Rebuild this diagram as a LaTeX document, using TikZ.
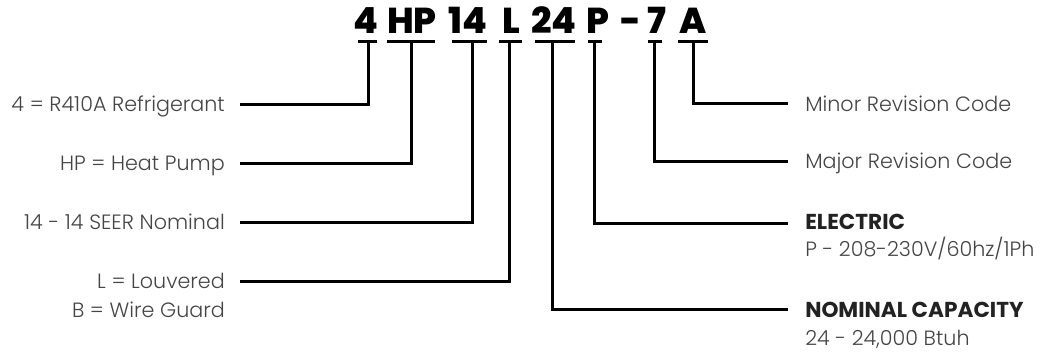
\documentclass[tikz,border=0pt]{standalone}
\usepackage{fontspec}
\setmainfont{Poppins}
\newfontfamily\lightfont{Poppins Light}
\newfontfamily\heavyfont{Poppins ExtraBold}
\definecolor{labelgray}{HTML}{444444}
\definecolor{headgray}{HTML}{222222}
\tikzset{
  code/.style={font=\heavyfont\fontsize{27}{28}\selectfont, inner sep=0pt, anchor=base},
  lbl/.style={font=\lightfont\fontsize{15.5}{16}\selectfont, text=labelgray, inner sep=0pt},
  lblL/.style={lbl, anchor=base east},
  lblR/.style={lbl, anchor=base west},
  head/.style={font=\fontsize{16.2}{17}\selectfont\bfseries, text=headgray, inner sep=0pt, anchor=base west},
  wire/.style={line width=2.25pt, line join=miter},
  ubar/.style={line width=2.25pt},
}
\begin{document}
\begin{tikzpicture}[x=0.75pt,y=-0.75pt]
\useasboundingbox (0,0) rectangle (1042,354);
% code letters
\node[code] (c4)  at (366,33) {4};
\node[code] (cHP) at (412,33) {HP};
\node[code] (c14) at (468,33) {14};
\node[code] (cL)  at (511,33) {L};
\node[code] (c24) at (554,33) {24};
\node[code] (cP)  at (598,33) {P};
\node[code] (cD)  at (631,33) {-};
\node[code] (c7)  at (657,33) {7};
\node[code] (cA)  at (693,33) {A};
% underline bars
\draw[ubar] (358,41) -- (377,41);
\draw[ubar] (387,41) -- (435,41);
\draw[ubar] (452,41) -- (487,41);
\draw[ubar] (499,41) -- (522,41);
\draw[ubar] (535,41) -- (575,41);
\draw[ubar] (588,41) -- (602,41);
\draw[ubar] (648,41) -- (662,41);
\draw[ubar] (678,41) -- (708,41);
% bar anchor points
\coordinate (b4)  at (368,41);
\coordinate (bHP) at (411,41);
\coordinate (b14) at (472,41);
\coordinate (bL)  at (509,41);
\coordinate (b24) at (552,41);
\coordinate (bP)  at (594,41);
\coordinate (b7)  at (654,41);
\coordinate (bA)  at (693,41);
% left labels
\node[lblL] (l4)  at (225,111) {4 = R410A Refrigerant};
\node[lblL] (lHP) at (225,170) {HP = Heat Pump};
\node[lblL] (l14) at (225,229) {14 - 14 SEER Nominal};
\node[lblL] (lL)  at (225,288) {L = Louvered};
\node[lblL] (lB)  at (225,317) {B = Wire Guard};
% right labels
\node[lblR] (rA)  at (805,111) {Minor Revision Code};
\node[lblR] (r7)  at (805,168) {Major Revision Code};
\node[head] (rP)  at (805,229) {ELECTRIC};
\node[lblR] (rP2) at (805,256) {P - 208-230V/60hz/1Ph};
\node[head] (r24) at (805,317) {NOMINAL CAPACITY};
\node[lblR] (r242) at (805,345) {24 - 24,000 Btuh};
% line ends
\coordinate (e4)  at (240,104);
\coordinate (eHP) at (240,163);
\coordinate (e14) at (240,222);
\coordinate (eL)  at (240,281);
\coordinate (eA)  at (788,103);
\coordinate (e7)  at (788,161);
\coordinate (eP)  at (788,223);
\coordinate (e24) at (788,309);
% connectors
\draw[wire] (b4)  |- (e4);
\draw[wire] (bHP) |- (eHP);
\draw[wire] (b14) |- (e14);
\draw[wire] (bL)  |- (eL);
\draw[wire] (bA)  |- (eA);
\draw[wire] (b7)  |- (e7);
\draw[wire] (bP)  |- (eP);
\draw[wire] (b24) |- (e24);
\end{tikzpicture}
\end{document}
